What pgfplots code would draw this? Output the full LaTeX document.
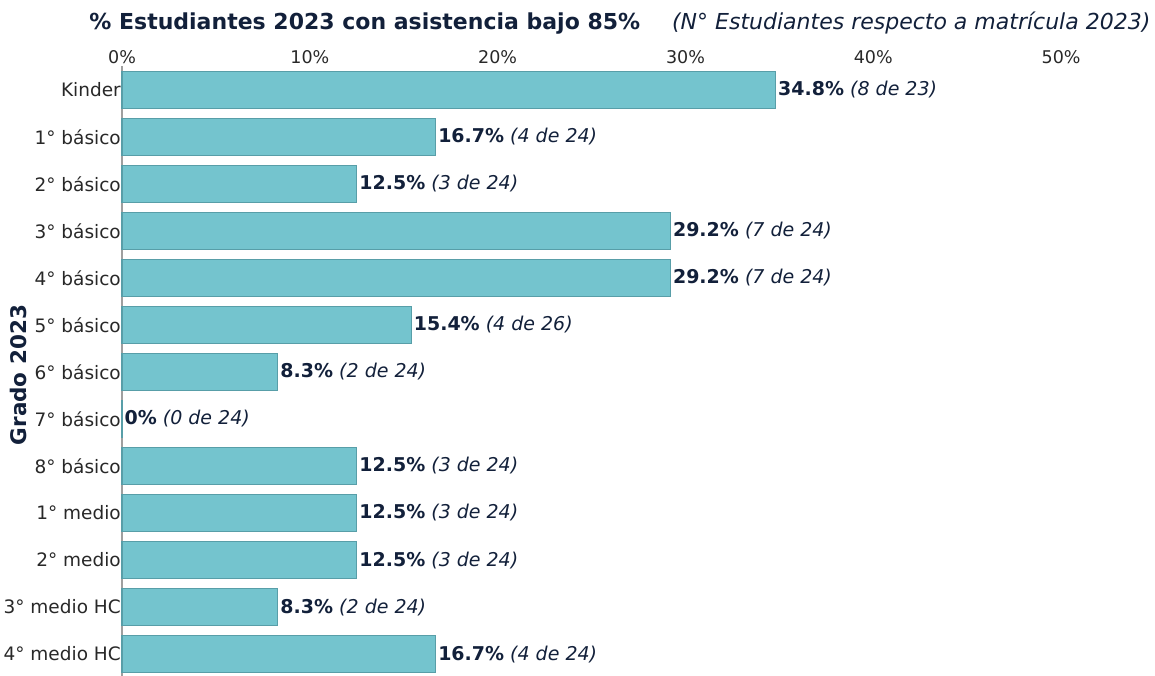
\documentclass[border=0pt]{standalone}
\usepackage{fontspec}
\setmainfont{DejaVu Sans}
\usepackage{pgfplots}
\pgfplotsset{compat=1.18}
\definecolor{barfill}{RGB}{116,196,206}
\definecolor{baredge}{RGB}{88,158,168}
\definecolor{navy}{RGB}{18,32,58}
\definecolor{txt}{RGB}{40,40,40}
\begin{document}
\begin{tikzpicture}
\begin{axis}[
  scale only axis, width=1033pt, height=611pt,
  xmin=0, xmax=55, ymin=-0.5, ymax=12.5,
  xbar, bar width=37.6pt,
  axis x line*=top, x axis line style={draw=none},
  axis y line*=left, y axis line style={draw=gray!75, line width=1.2pt},
  xtick={0,10,20,30,40,50},
  xticklabel={\pgfmathprintnumber{\tick}\%},
  ytick={0,...,12},
  yticklabels={4° medio HC, 3° medio HC, 2° medio, 1° medio, 8° básico, 7° básico, 6° básico, 5° básico, 4° básico, 3° básico, 2° básico, 1° básico, Kinder},
  major tick length=0pt,
  tick style={draw=none},
  /pgf/number format/assume math mode=true,
  xticklabel style={font=\fontsize{17.5}{20}\selectfont, text=txt, yshift=-1pt},
  yticklabel style={font=\fontsize{18.5}{20}\selectfont, text=txt, inner xsep=1pt},
  ylabel={Grado 2023},
  ylabel style={at={(axis description cs:-0.1007,0.495)}, anchor=center, font=\bfseries\fontsize{21.5}{24}\selectfont, text=navy},
  title={\textbf{\% Estudiantes 2023 con asistencia bajo 85\%}\hspace{32pt}\textit{(N° Estudiantes respecto a matrícula 2023)}},
  title style={at={(axis description cs:0.482,1)}, anchor=base, yshift=31pt, font=\fontsize{22}{24}\selectfont, text=navy},
  point meta=explicit symbolic,
  nodes near coords,
  nodes near coords style={anchor=west, inner xsep=2pt, font=\fontsize{19}{22}\selectfont, text=navy},
  clip=false,
]
\addplot[fill=barfill, draw=baredge, line width=1.2pt] coordinates {
  (16.7,0)  [{\textbf{16.7\%} \textit{(4 de 24)}}]
  (8.3,1)   [{\textbf{8.3\%} \textit{(2 de 24)}}]
  (12.5,2)  [{\textbf{12.5\%} \textit{(3 de 24)}}]
  (12.5,3)  [{\textbf{12.5\%} \textit{(3 de 24)}}]
  (12.5,4)  [{\textbf{12.5\%} \textit{(3 de 24)}}]
  (0,5)     [{\textbf{0\%} \textit{(0 de 24)}}]
  (8.3,6)   [{\textbf{8.3\%} \textit{(2 de 24)}}]
  (15.4,7)  [{\textbf{15.4\%} \textit{(4 de 26)}}]
  (29.2,8)  [{\textbf{29.2\%} \textit{(7 de 24)}}]
  (29.2,9)  [{\textbf{29.2\%} \textit{(7 de 24)}}]
  (12.5,10) [{\textbf{12.5\%} \textit{(3 de 24)}}]
  (16.7,11) [{\textbf{16.7\%} \textit{(4 de 24)}}]
  (34.8,12) [{\textbf{34.8\%} \textit{(8 de 23)}}]
};
\coordinate (tl) at (rel axis cs:0,1);
\coordinate (br) at (rel axis cs:1,0);
\end{axis}
\pgfresetboundingbox
\path[use as bounding box] ([shift={(-122pt,66.5pt)}]tl) rectangle ([shift={(0pt,2.5pt)}]br);
\end{tikzpicture}
\end{document}
